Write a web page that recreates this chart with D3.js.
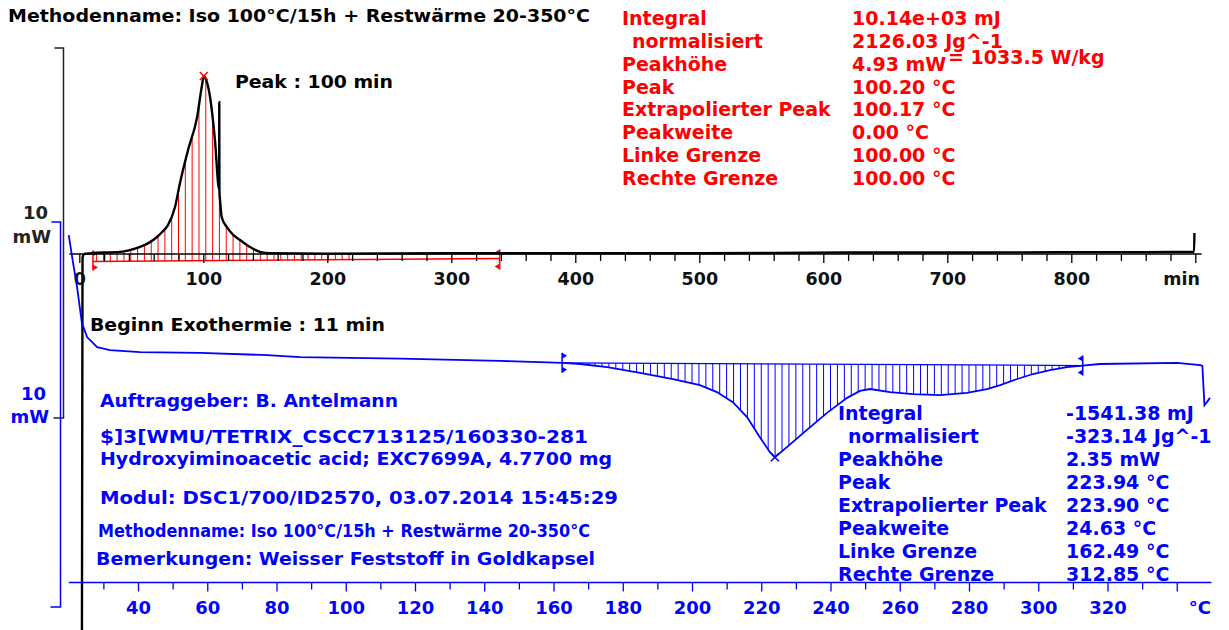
<!DOCTYPE html>
<html>
<head>
<meta charset="utf-8">
<script src="https://cdn.jsdelivr.net/npm/d3@7"></script>
<style>
body { margin: 0; background: #fff; }
svg text { font-family: "DejaVu Sans", Verdana, sans-serif; font-weight: bold; }
</style>
</head>
<body>
<svg width="1229" height="630"></svg>
<script>
// DATA

// isothermal part (100 C for 15 h): heat flow in mW against time in min
var isoTime = [2.0, 2.6, 4, 10, 20, 30.4, 40, 49, 56, 62.7, 67, 71.5, 77.2, 81.2, 87.7, 95, 99, 100.4, 102.4, 105.4, 109.4,
               112.8, 112.9, 113.0, 113.5, 114.8, 118.9, 124, 129.6, 137, 145.7, 153.8, 200, 300, 400, 480, 560, 640, 720, 800, 860, 899, 899.3];
var isoFlow = [-13, -0.1, 0, 0.02, 0.04, 0.05, 0.1, 0.19, 0.3, 0.46, 0.6, 0.78, 1.27, 1.92, 2.81, 3.70, 4.57, 4.81, 4.70, 4.25, 3.08,
               1.74, 4.1, 1.70, 1.46, 1.0, 0.73, 0.52, 0.38, 0.2, 0.06, 0.02, 0.01, 0.02, 0.02, 0.02, 0.03, 0.04, 0.04, 0.05, 0.05, 0.06, 0.57];
var isoLimits = [11, 339];          // min
var isoBaseFlow = [-0.2, -0.12];    // mW at the two limits

// rest heat ramp 20-350 C: heat flow in mW against temperature in C
var rampTemp = [20.0, 21.2, 22.4, 23.8, 25.3, 28.2, 31.9, 40.6, 57.9, 77.3, 86.8, 115.7, 144.5, 162.7, 167.7, 175.5, 185.0, 194.5,
                202.3, 207.2, 211.8, 215.9, 219.6, 222.5, 223.94, 227.4, 233.2, 239.0, 244.8, 248.5, 251.4, 257.2, 263.8, 271.6,
                279.4, 285.2, 289.0, 293.9, 298.5, 303.4, 308.3, 312.1, 317.8, 340.1, 346.8, 347.4, 348.0, 348.7, 349.6];
var rampFlow = [3.35, 2.65, 2.0, 1.06, 0.70, 0.44, 0.36, 0.31, 0.29, 0.23, 0.18, 0.14, 0.08, 0.03, 0, -0.08, -0.23, -0.39,
                -0.55, -0.73, -0.99, -1.38, -1.90, -2.29, -2.42, -2.16, -1.71, -1.27, -0.88, -0.70, -0.65, -0.73, -0.78, -0.81,
                -0.75, -0.65, -0.55, -0.39, -0.26, -0.16, -0.08, -0.05, 0.0, 0.03, -0.03, -0.05, -1.07, -0.99, -0.88];
var rampLimits = [162.49, 312.85];  // C
var rampBaseFlow = [0.03, -0.04];

var timeLabels = [0, 100, 200, 300, 400, 500, 600, 700, 800];
var tempLabels = [40, 60, 80, 100, 120, 140, 160, 180, 200, 220, 240, 260, 280, 300, 320];

var titleText = "Methodenname: Iso 100\u00b0C/15h + Restw\u00e4rme 20-350\u00b0C";
var isoPeakText = "Peak : 100 min";
var isoOnsetText = "Beginn Exothermie : 11 min";

var isoResultNames = ["Integral", "normalisiert", "Peakh\u00f6he", "Peak", "Extrapolierter Peak", "Peakweite", "Linke Grenze", "Rechte Grenze"];
var isoResultValues = ["10.14e+03 mJ", "2126.03 Jg^-1", "4.93 mW", "100.20 \u00b0C", "100.17 \u00b0C", "0.00 \u00b0C", "100.00 \u00b0C", "100.00 \u00b0C"];
var isoSpecific = "= 1033.5 W/kg";

var rampResultNames = isoResultNames;
var rampResultValues = ["-1541.38 mJ", "-323.14 Jg^-1", "2.35 mW", "223.94 \u00b0C", "223.90 \u00b0C", "24.63 \u00b0C", "162.49 \u00b0C", "312.85 \u00b0C"];

var infoLines = ["Auftraggeber: B. Antelmann",
                 "$]3[WMU/TETRIX_CSCC713125/160330-281",
                 "Hydroxyiminoacetic acid; EXC7699A, 4.7700 mg",
                 "Modul: DSC1/700/ID2570, 03.07.2014 15:45:29",
                 "Methodenname: Iso 100\u00b0C/15h + Restw\u00e4rme 20-350\u00b0C",
                 "Bemerkungen: Weisser Feststoff in Goldkapsel"];


// SCALES

var svg = d3.select("svg");
var RED = "#ff0000", BLUE = "#0000ff", BLACK = "#000";

var xTime = d3.scaleLinear().domain([0, 100]).range([79.3, 203.3]);
var yIso = d3.scaleLinear().domain([0, 10]).range([254, 254 - 370]);     // 10 mW bar = 370 px
var xTemp = d3.scaleLinear().domain([40, 320]).range([138, 1107.5]);
var yRamp = d3.scaleLinear().domain([0, 10]).range([364, 364 - 385]);    // 10 mW bar = 385 px

function zip(xs, ys) { return xs.map(function(x, i) { return [x, ys[i]]; }); }

// linear lookup of the curve value, used for the hatching
function valueAt(xs, ys, x) {
  var i = d3.bisectLeft(xs, x);
  if (i <= 0) return ys[0];
  if (i >= xs.length) return ys[ys.length - 1];
  var t = (x - xs[i - 1]) / (xs[i] - xs[i - 1]);
  return ys[i - 1] + t * (ys[i] - ys[i - 1]);
}
function baseAt(lim, base, x) {
  return base[0] + (x - lim[0]) / (lim[1] - lim[0]) * (base[1] - base[0]);
}


// ISOTHERMAL CURVE (black, top)

var isoG = svg.append("g");

// red hatching between integration baseline and curve
isoG.selectAll("line.hatch")
  .data(d3.range(14, 222, 5.5))
  .enter().append("line")
    .attr("class", "hatch")
    .attr("x1", function(d) { return xTime(d); })
    .attr("x2", function(d) { return xTime(d); })
    .attr("y1", function(d) { return yIso(baseAt(isoLimits, isoBaseFlow, d)); })
    .attr("y2", function(d) { return yIso(valueAt(isoTime, isoFlow, d)); })
    .attr("stroke", RED).attr("stroke-width", 1);

isoG.append("line")
  .attr("x1", xTime(isoLimits[0])).attr("y1", yIso(isoBaseFlow[0]))
  .attr("x2", xTime(isoLimits[1])).attr("y2", yIso(isoBaseFlow[1]))
  .attr("stroke", RED).attr("stroke-width", 1.5);

function limitMarker(g, x, y, dir, col) {
  g.append("line").attr("x1", x).attr("x2", x).attr("y1", y - 10).attr("y2", y + 10)
    .attr("stroke", col).attr("stroke-width", 1.5);
  [y - 7, y + 7].forEach(function(yy) {
    g.append("path")
      .attr("d", "M" + x + "," + (yy - 3) + "L" + (x + dir * 5) + "," + yy + "L" + x + "," + (yy + 3) + "Z")
      .attr("fill", col);
  });
}
limitMarker(isoG, xTime(isoLimits[0]), yIso(isoBaseFlow[0]) - 1, 1, RED);
limitMarker(isoG, xTime(isoLimits[1]), yIso(isoBaseFlow[1]) + 1, -1, RED);

// top time axis
var timeAxis = d3.axisBottom(xTime)
  .tickValues(d3.range(0, 901, 20))
  .tickSize(8)
  .tickFormat(function(d) { return timeLabels.indexOf(d) >= 0 ? d : ""; });
var ta = svg.append("g").attr("transform", "translate(0,254)").call(timeAxis);
ta.select(".domain").remove();
ta.selectAll("line").attr("stroke", BLACK).attr("stroke-width", 1.3)
  .attr("y2", function(d) { return d % 100 === 0 ? 9 : 7; });
ta.selectAll("text").attr("y", 31).attr("dy", null)
  .style("font-size", "17.5px").attr("fill", "#111");
svg.append("line").attr("x1", xTime(-8)).attr("x2", xTime(905)).attr("y1", 254).attr("y2", 254)
  .attr("stroke", BLACK).attr("stroke-width", 1.5);
svg.append("text").attr("x", 1200).attr("y", 285).attr("text-anchor", "end")
  .style("font-size", "17.5px").attr("fill", "#111").text("min");

var isoLine = d3.line()
  .x(function(d) { return xTime(d[0]); })
  .y(function(d) { return yIso(d[1]); })
  .curve(d3.curveMonotoneX);
isoG.append("path")
  .datum(zip(isoTime, isoFlow))
  .attr("d", isoLine)
  .attr("fill", "none").attr("stroke", BLACK).attr("stroke-width", 2.4);

function crossMark(g, x, y, col) {
  g.append("path").attr("d", "M" + (x - 4) + "," + (y - 4) + "L" + (x + 4) + "," + (y + 4) + "M" + (x - 4) + "," + (y + 4) + "L" + (x + 4) + "," + (y - 4))
    .attr("stroke", col).attr("stroke-width", 1.5);
}
var isoPeakIdx = d3.maxIndex(isoFlow);
crossMark(isoG, xTime(isoTime[isoPeakIdx]), yIso(isoFlow[isoPeakIdx]), RED);


// RAMP CURVE (blue, bottom)

var rampG = svg.append("g");

rampG.selectAll("line.hatch")
  .data(d3.range(164, 312, 2))
  .enter().append("line")
    .attr("class", "hatch")
    .attr("x1", function(d) { return xTemp(d); })
    .attr("x2", function(d) { return xTemp(d); })
    .attr("y1", function(d) { return yRamp(baseAt(rampLimits, rampBaseFlow, d)); })
    .attr("y2", function(d) { return yRamp(valueAt(rampTemp, rampFlow, d)); })
    .attr("stroke", BLUE).attr("stroke-width", 1);

rampG.append("line")
  .attr("x1", xTemp(rampLimits[0])).attr("y1", yRamp(rampBaseFlow[0]))
  .attr("x2", xTemp(rampLimits[1])).attr("y2", yRamp(rampBaseFlow[1]))
  .attr("stroke", BLUE).attr("stroke-width", 1.3);
limitMarker(rampG, xTemp(rampLimits[0]), yRamp(rampBaseFlow[0]), 1, BLUE);
limitMarker(rampG, xTemp(rampLimits[1]), yRamp(rampBaseFlow[1]), -1, BLUE);

var rampLine = d3.line()
  .x(function(d) { return xTemp(d[0]); })
  .y(function(d) { return yRamp(d[1]); });
rampG.append("path")
  .datum(zip(rampTemp, rampFlow))
  .attr("d", rampLine)
  .attr("fill", "none").attr("stroke", BLUE).attr("stroke-width", 1.8);

var rampPeakIdx = d3.minIndex(rampFlow);
crossMark(rampG, xTemp(rampTemp[rampPeakIdx]), yRamp(rampFlow[rampPeakIdx]), BLUE);

// bottom temperature axis
var tempAxis = d3.axisBottom(xTemp)
  .tickValues(d3.range(30, 341, 10))
  .tickSize(8)
  .tickFormat(function(d) { return tempLabels.indexOf(d) >= 0 ? d : ""; });
var ba = svg.append("g").attr("transform", "translate(0,582.5)").call(tempAxis);
ba.select(".domain").remove();
ba.selectAll("line").attr("stroke", BLUE).attr("stroke-width", 1.3)
  .attr("y2", function(d) { return d % 20 === 0 ? 9 : 7; });
ba.selectAll("text").attr("y", 31.5).attr("dy", null)
  .style("font-size", "18px").attr("fill", BLUE);
svg.append("line").attr("x1", xTemp(20)).attr("x2", xTemp(350)).attr("y1", 582.5).attr("y2", 582.5)
  .attr("stroke", BLUE).attr("stroke-width", 1.5);
svg.append("text").attr("x", 1211).attr("y", 614).attr("text-anchor", "end")
  .style("font-size", "18px").attr("fill", BLUE).text("\u00b0C");


// 10 mW SCALE BARS

function scaleBar(x, yTop, yBottom, col, labelX, y1, y2) {
  svg.append("path")
    .attr("d", "M" + (x - 9) + "," + yTop + "H" + x + "V" + yBottom + "H" + (x - 10))
    .attr("fill", "none").attr("stroke", col).attr("stroke-width", 1.5);
  svg.append("text").attr("x", labelX).attr("y", y1).attr("text-anchor", "end")
    .style("font-size", "18px").attr("fill", col).text("10");
  svg.append("text").attr("x", labelX + 3).attr("y", y2).attr("text-anchor", "end")
    .style("font-size", "18px").attr("fill", col).text("mW");
}
scaleBar(63.5, yIso(5.57), yIso(5.57 - 10), "#222", 48, 219, 243);
scaleBar(60.5, yRamp(3.69), yRamp(3.69 - 10), BLUE, 46, 400, 423);


// TEXTS

function addText(str, x, y, size, col, width) {
  var t = svg.append("text").attr("x", x).attr("y", y)
    .style("font-size", size + "px").attr("fill", col).text(str);
  if (width) t.attr("textLength", width).attr("lengthAdjust", "spacingAndGlyphs");
  return t;
}

addText(titleText, 8, 22, 18, BLACK, 582);
addText(isoPeakText, 235, 88, 17, BLACK, 158);
addText(isoOnsetText, 90, 331, 17, BLACK, 295);

isoResultNames.forEach(function(s, i) {
  addText(s, i === 1 ? 632 : 622, 25 + i * 22.86, 19, RED);
  addText(isoResultValues[i], 852, 25 + i * 22.86, 19, RED);
});
addText(isoSpecific, 948, 64, 19, RED);

rampResultNames.forEach(function(s, i) {
  addText(s, i === 1 ? 848 : 838, 420 + i * 23, 19, BLUE);
  addText(rampResultValues[i], 1066, 420 + i * 23, 19, BLUE);
});

var infoX = [100, 100, 100, 100, 98, 96];
var infoY = [407, 443, 465, 504, 537, 565];
var infoW = [298, 488, 512, 518, 492, 499];
infoLines.forEach(function(s, i) {
  addText(s, infoX[i], infoY[i], 17, BLUE, infoW[i]);
});
</script>
</body>
</html>
